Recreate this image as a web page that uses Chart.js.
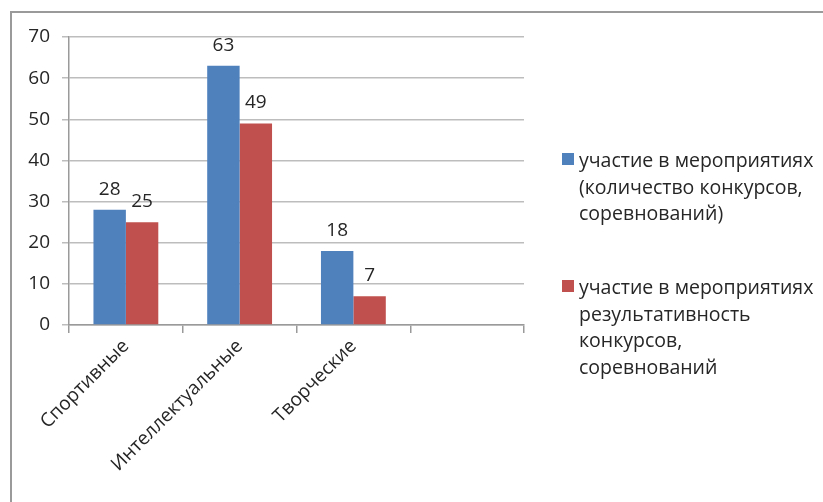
<!DOCTYPE html>
<html>
<head>
<meta charset="utf-8">
<script src="https://cdn.jsdelivr.net/npm/chart.js@4/dist/chart.umd.min.js"></script>
<style>
  html, body { margin: 0; padding: 0; background: #fff; }
  #wrap { position: relative; width: 823px; height: 502px; overflow: hidden; }
  #frame { position: absolute; left: 10px; top: 11px; width: 900px; height: 600px;
           border-left: 2px solid #9a9a9a; border-top: 2px solid #9a9a9a; }
  canvas { position: absolute; left: 0; top: 0; }
</style>
</head>
<body>
<div id="wrap">
  <div id="frame"></div>
  <canvas id="chart" width="823" height="502"></canvas>
</div>
<script>
const categories = ['Спортивные', 'Интеллектуальные', 'Творческие', ''];
const participation = [28, 63, 18, null];
const results = [25, 49, 7, null];
const seriesNames = [
  ['участие в мероприятиях', '(количество конкурсов,', 'соревнований)'],
  ['участие в мероприятиях', 'результативность', 'конкурсов,', 'соревнований']
];
const yTicks = [0, 10, 20, 30, 40, 50, 60, 70];

const FONT = '"Open Sans", "Noto Sans", sans-serif';
const SIZE = 19;
const TEXT = '#262626';

// values above the bars
const barLabels = {
  id: 'barLabels',
  afterDatasetsDraw(chart) {
    const ctx = chart.ctx;
    ctx.save();
    ctx.font = SIZE + 'px ' + FONT;
    ctx.fillStyle = TEXT;
    ctx.textAlign = 'center';
    ctx.textBaseline = 'alphabetic';
    chart.data.datasets.forEach((ds, i) => {
      chart.getDatasetMeta(i).data.forEach((bar, j) => {
        if (ds.data[j] == null) return;
        ctx.fillText(ds.data[j], bar.x, bar.y - 15);
      });
    });
    ctx.restore();
  }
};

// legend on the right with wrapped lines
const sideLegend = {
  id: 'sideLegend',
  afterDraw(chart) {
    const ctx = chart.ctx;
    const baselines = [167, 294];
    ctx.save();
    ctx.font = '19.5px ' + FONT;
    ctx.textBaseline = 'alphabetic';
    chart.data.datasets.forEach((ds, i) => {
      ctx.fillStyle = ds.backgroundColor;
      ctx.fillRect(562, baselines[i] - 14, 12, 12);
      ctx.fillStyle = TEXT;
      seriesNames[i].forEach((line, k) => {
        ctx.fillText(line, 579, baselines[i] + k * 26.6);
      });
    });
    ctx.restore();
  }
};

new Chart(document.getElementById('chart'), {
  type: 'bar',
  data: {
    labels: categories,
    datasets: [
      { label: seriesNames[0].join(' '), data: participation, backgroundColor: '#4f81bd' },
      { label: seriesNames[1].join(' '), data: results, backgroundColor: '#c0504d' }
    ]
  },
  options: {
    responsive: false,
    animation: false,
    categoryPercentage: 0.57,
    barPercentage: 1,
    layout: { padding: { top: 37, right: 299, left: 0, bottom: 0 } },
    plugins: { legend: { display: false }, tooltip: { enabled: false } },
    scales: {
      x: {
        afterFit(scale) { scale.height = 177; },
        grid: { drawOnChartArea: false, drawTicks: true, tickLength: 8, color: '#9a9a9a', lineWidth: 1.5 },
        border: { color: '#9a9a9a', width: 1.5 },
        ticks: { color: TEXT, font: { family: FONT, size: SIZE }, minRotation: 45, maxRotation: 45, padding: 2 }
      },
      y: {
        min: 0,
        max: 70,
        afterFit(scale) { scale.width = 69; },
        afterBuildTicks(scale) { scale.ticks = yTicks.map(v => ({ value: v })); },
        grid: { color: '#bdbdbd', lineWidth: 1.5, tickLength: 7 },
        border: { color: '#9a9a9a', width: 1.5 },
        ticks: { color: TEXT, font: { family: FONT, size: SIZE }, padding: 12 }
      }
    }
  },
  plugins: [barLabels, sideLegend]
});
</script>
</body>
</html>
